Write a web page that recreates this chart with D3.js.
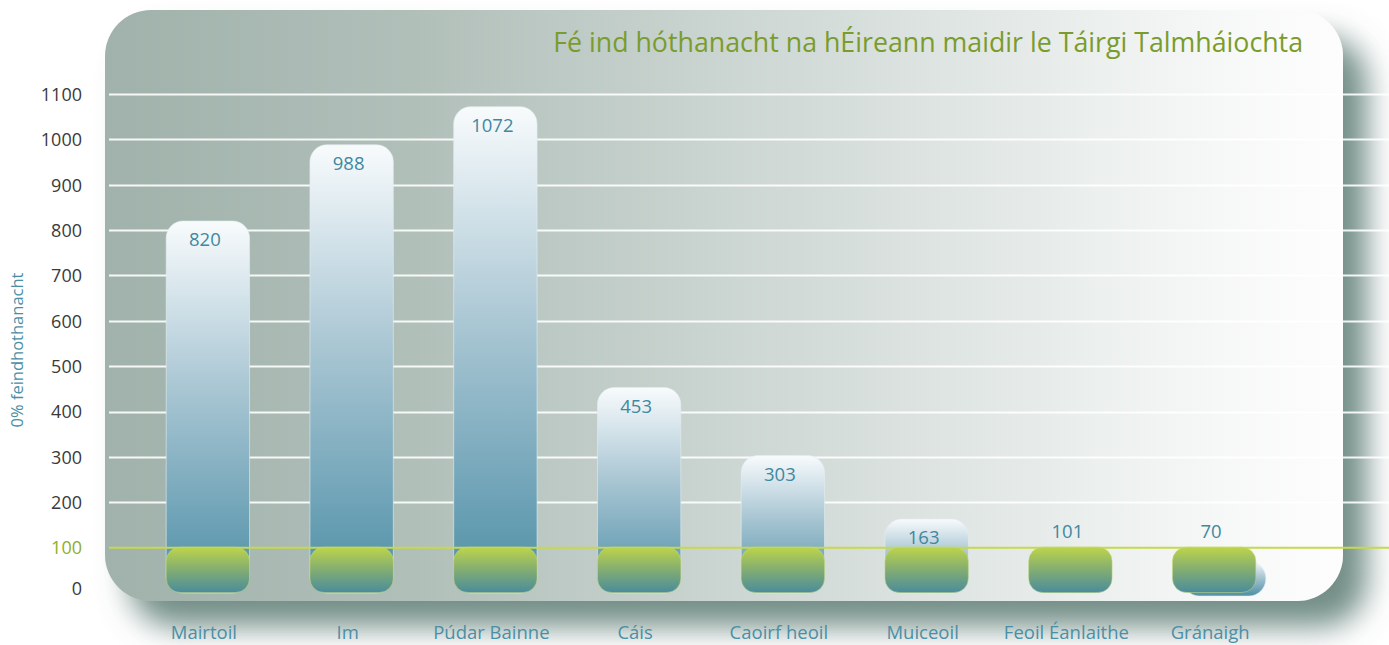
<!DOCTYPE html>
<html>
<head>
<meta charset="utf-8">
<script src="https://cdn.jsdelivr.net/npm/d3@7"></script>
<style>
  html, body { margin: 0; padding: 0; background: #ffffff; }
  svg { display: block; font-family: "Open Sans", "Noto Sans", sans-serif; }
</style>
</head>
<body>
<svg id="chart" width="1389" height="645"></svg>
<script>
const categories = ["Mairtoil", "Im", "Púdar Bainne", "Cáis", "Caoirf heoil", "Muiceoil", "Feoil Éanlaithe", "Gránaigh"];
const values = [820, 988, 1072, 453, 303, 163, 101, 70];
const yTicks = [0, 100, 200, 300, 400, 500, 600, 700, 800, 900, 1000, 1100];
const referenceValue = 100;
const titleText = "Fé ind hóthanacht na hÉireann maidir le Táirgi Talmháiochta";
const yAxisTitle = "0% feindhothanacht";

const svg = d3.select("#chart");
const W = 1389, H = 645;

const defs = svg.append("defs");

// panel gradient
const pg = defs.append("linearGradient").attr("id", "panelGrad").attr("x1", 0).attr("x2", 1).attr("y1", 0).attr("y2", 0);
[[0, "#a0b2ab"], [0.25, "#b1bfb9"], [0.5, "#cbd5d1"], [0.75, "#e6ebe9"], [0.9, "#f6f8f7"], [1, "#fdfdfd"]]
  .forEach(([o, c]) => pg.append("stop").attr("offset", o).attr("stop-color", c));

// blue bar gradient
const bg = defs.append("linearGradient").attr("id", "barGrad").attr("x1", 0).attr("x2", 0).attr("y1", 0).attr("y2", 1);
[[0, "#f8fbfc"], [0.12, "#e3edf2"], [0.45, "#a9c6d3"], [0.8, "#6fa3b7"], [1, "#4d8ea4"]]
  .forEach(([o, c]) => bg.append("stop").attr("offset", o).attr("stop-color", c));

// green cap gradient
const cg = defs.append("linearGradient").attr("id", "capGrad").attr("x1", 0).attr("x2", 0).attr("y1", 0).attr("y2", 1);
[[0, "#bdd54a"], [0.45, "#88b06e"], [1, "#4a8c9c"]]
  .forEach(([o, c]) => cg.append("stop").attr("offset", o).attr("stop-color", c));

// shadow filter
const f = defs.append("filter").attr("id", "panelShadow").attr("x", "-10%").attr("y", "-10%").attr("width", "130%").attr("height", "130%");
f.append("feGaussianBlur").attr("in", "SourceAlpha").attr("stdDeviation", 15).attr("result", "blur");
f.append("feOffset").attr("in", "blur").attr("dx", 24).attr("dy", 26).attr("result", "off");
f.append("feFlood").attr("flood-color", "#64827a").attr("flood-opacity", 0.9).attr("result", "col");
f.append("feComposite").attr("in", "col").attr("in2", "off").attr("operator", "in").attr("result", "shadow");
const fm = f.append("feMerge");
fm.append("feMergeNode").attr("in", "shadow");
fm.append("feMergeNode").attr("in", "SourceGraphic");

// panel
const panel = { x: 105, y: 10, w: 1238, h: 591, r: 46 };
svg.append("rect")
  .attr("x", panel.x).attr("y", panel.y).attr("width", panel.w).attr("height", panel.h)
  .attr("rx", panel.r).attr("ry", panel.r)
  .attr("fill", "url(#panelGrad)")
  .attr("filter", "url(#panelShadow)");

// scales
const y = d3.scaleLinear().domain([0, 1100]).range([593, 94]);
const x = d3.scaleBand().domain(categories).range([136, 1286]).paddingInner(0.42).paddingOuter(0.21);

// gridlines
svg.append("g").selectAll("line")
  .data(yTicks.filter(t => t !== referenceValue && t !== 0))
  .join("line")
  .attr("x1", 109).attr("x2", W)
  .attr("y1", d => Math.round(y(d)) + 0.5).attr("y2", d => Math.round(y(d)) + 0.5)
  .attr("stroke", "#ffffff").attr("stroke-opacity", 0.9).attr("stroke-width", 2);

// y axis labels
const yAxis = d3.axisLeft(y).tickValues(yTicks).tickSize(0).tickPadding(0).tickFormat(d3.format("d"));
const yg = svg.append("g").attr("transform", "translate(82,0)").call(yAxis);
yg.select(".domain").remove();
yg.selectAll("text")
  .attr("font-size", 18)
  .attr("font-family", "'Open Sans', sans-serif")
  .attr("fill", d => d === referenceValue ? "#8fae2e" : "#3a3a3a")
  .attr("dy", "0.35em");
yg.selectAll(".tick").filter(d => d === 0).select("text").attr("dy", "0.1em");

// y axis title
svg.append("text")
  .attr("transform", "translate(23,350) rotate(-90)")
  .attr("text-anchor", "middle")
  .attr("font-size", 16.5)
  .attr("fill", "#4a8fa6")
  .text(yAxisTitle);

// blue bars
const bars = svg.append("g");
bars.selectAll("rect")
  .data(categories.map((c, i) => ({ c, v: values[i] })))
  .join("rect")
  .attr("x", d => x(d.c) + (d.v < referenceValue ? 10 : 0))
  .attr("y", d => y(d.v))
  .attr("width", x.bandwidth())
  .attr("height", d => y(0) - y(d.v) + (d.v < referenceValue ? 3 : 0))
  .attr("rx", 17).attr("ry", 17)
  .attr("fill", "url(#barGrad)")
  .attr("stroke", "#e4edf0").attr("stroke-opacity", 0.6).attr("stroke-width", 1);

// reference line
svg.append("line")
  .attr("x1", 109).attr("x2", W)
  .attr("y1", y(referenceValue)).attr("y2", y(referenceValue))
  .attr("stroke", "#c6d94a").attr("stroke-width", 2);

// green caps
svg.append("g").selectAll("rect")
  .data(categories)
  .join("rect")
  .attr("x", d => x(d))
  .attr("y", y(referenceValue) - 0.5)
  .attr("width", x.bandwidth())
  .attr("height", y(0) - y(referenceValue))
  .attr("rx", 14).attr("ry", 14)
  .attr("fill", "url(#capGrad)")
  .attr("stroke", "#c9dc7a").attr("stroke-opacity", 0.5).attr("stroke-width", 1);

// value labels
svg.append("g").selectAll("text")
  .data(categories.map((c, i) => ({ c, v: values[i] })))
  .join("text")
  .attr("x", d => x(d.c) + x.bandwidth() / 2 - 3)
  .attr("y", d => d.v <= 110 ? y(referenceValue) - 10 : y(d.v) + 25)
  .attr("text-anchor", "middle")
  .attr("font-size", 18.5)
  .attr("fill", "#3f88a0")
  .text(d => d.v);

// x labels
const xAxis = d3.axisBottom(x).tickSize(0).tickPadding(0);
const xg = svg.append("g").attr("transform", "translate(-4,633)").call(xAxis);
xg.select(".domain").remove();
xg.selectAll("text")
  .attr("font-size", 18.5)
  .attr("font-family", "'Open Sans', sans-serif")
  .attr("fill", "#4a8fa6")
  .attr("dy", "0.35em");

// title
const title = svg.append("text")
  .attr("x", 1303).attr("y", 52)
  .attr("text-anchor", "end")
  .attr("font-size", 24)
  .attr("fill", "#7a9c2c")
  .text(titleText);
const tl = title.node().getComputedTextLength();
title.attr("font-size", 24 * 750 / tl);
</script>
</body>
</html>
